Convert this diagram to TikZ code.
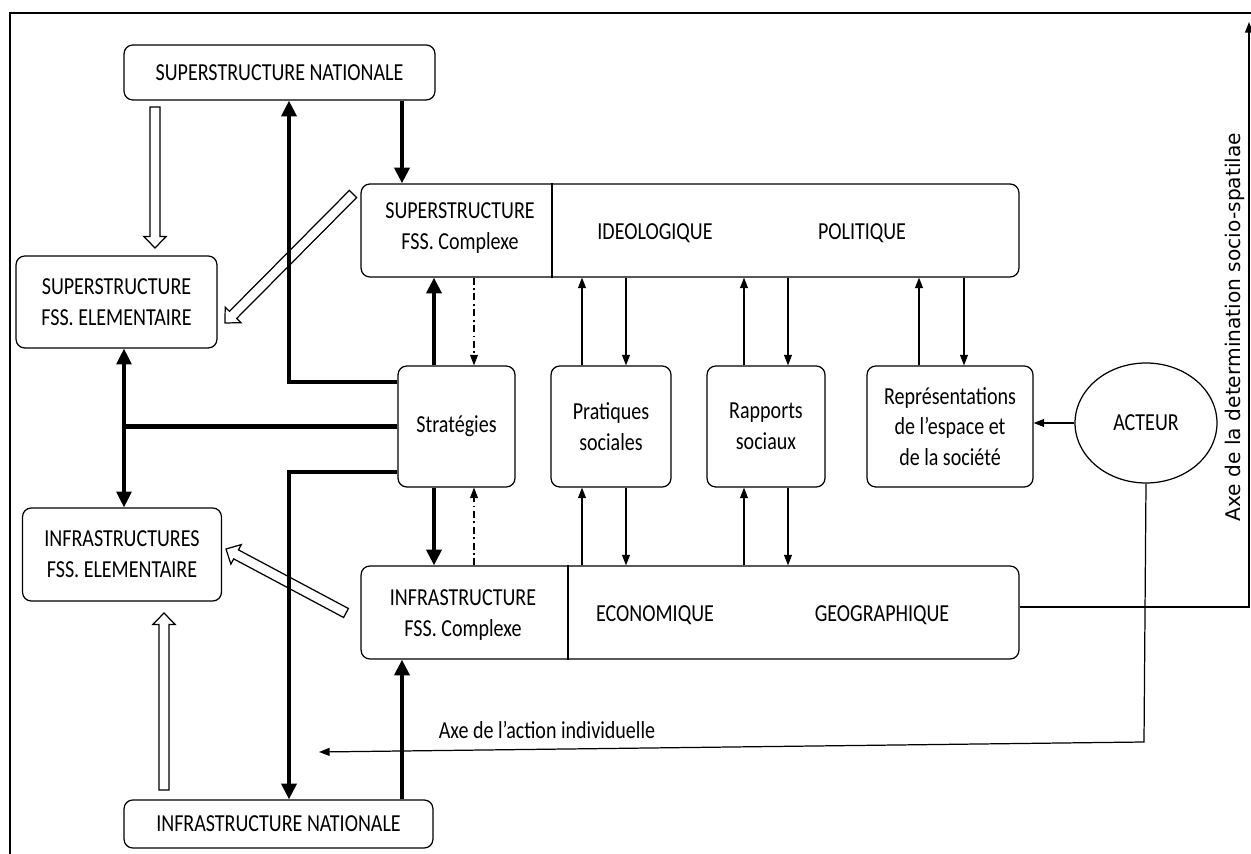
\documentclass[tikz,border=0pt]{standalone}
\usepackage{fontspec}
\setmainfont{Carlito}[FakeStretch=0.82]
\newfontfamily\axefont{DejaVu Sans}
\usetikzlibrary{calc,positioning,arrows.meta,shapes.geometric}
\tikzset{>={Triangle[length=6pt,width=4.5pt]}}
\tikzset{
  box/.style={draw, line width=0.7pt, rounded corners=5pt, align=center, inner sep=0pt},
  fine/.style={line width=0.7pt},
  heavy/.style={line width=2.3pt, >={Triangle[length=9pt,width=8.5pt]}},
  dashdot/.style={line width=0.6pt, dash pattern=on 4pt off 2pt on 1pt off 2pt},
  lbl/.style={align=center, inner sep=0pt},
}
% block arrow with white inside, from #1 to #2
\newcommand{\hollowarrow}[2]{%
  \coordinate (hb) at ($(#2)!6.5pt!(#1)$);
  \draw[fine, fill=white, line join=miter]
    ($(#1)!2.9pt!90:(#2)$) -- ($(hb)!2.9pt!90:(#2)$) -- ($(hb)!6.3pt!90:(#2)$) -- (#2)
    -- ($(hb)!6.3pt!-90:(#2)$) -- ($(hb)!2.9pt!-90:(#2)$) -- ($(#1)!2.9pt!-90:(#2)$) -- cycle;
}

\begin{document}
\begin{tikzpicture}[x=0.02cm, y=-0.02cm, font=\fontsize{13.9}{17.5}\selectfont]
    \useasboundingbox (0,0) rectangle (1251,854);
    \draw[line width=1.2pt] (10,854) -- (10,13) -- (1251,13);

    % boxes
    \node[box, minimum width=6.22cm, minimum height=1.1cm] (SN) at (279.5,72.5) {SUPERSTRUCTURE NATIONALE};
    \node[box, minimum width=4.02cm, minimum height=1.84cm] (SE) at (116.5,302) {SUPERSTRUCTURE\\FSS. ELEMENTAIRE};
    \node[box, minimum width=3.98cm, minimum height=1.86cm] (IE) at (122,554.5) {INFRASTRUCTURES\\FSS. ELEMENTAIRE};
    \node[box, minimum width=6.18cm, minimum height=0.96cm] (IN) at (278.5,824) {INFRASTRUCTURE NATIONALE};
    \node[box, minimum width=13.16cm, minimum height=1.86cm] (SC) at (690,230.5) {};
    \node[box, minimum width=13.16cm, minimum height=1.86cm] (IC) at (690,612.5) {};
    \node[box, minimum width=2.34cm, minimum height=2.42cm] (strat) at (456.5,426.5) {Stratégies};
    \node[box, minimum width=2.4cm, minimum height=2.42cm] (prat) at (611,426.5) {Pratiques\\sociales};
    \node[box, minimum width=2.36cm, minimum height=2.42cm] (rapp) at (766,426.5) {Rapports\\sociaux};
    \node[box, minimum width=3.32cm, minimum height=2.42cm] (repr) at (950,426.5) {Représentations\\de l’espace et\\de la société};
    \node[draw, fine, ellipse, minimum width=2.84cm, minimum height=2.4cm, inner sep=0pt] (acteur) at (1146,423) {ACTEUR};

    % inside the two long boxes
    \draw[fine] (552,0 |- SC.north) -- (552,0 |- SC.south);
    \node[lbl] (scname) at (460,228) {SUPERSTRUCTURE\\FSS. Complexe};
    \node[lbl] (ideo) at (655,233) {IDEOLOGIQUE};
    \node[lbl] (poli) at (862,233) {POLITIQUE};
    \draw[fine] (568,0 |- IC.north) -- (568,0 |- IC.south);
    \node[lbl] (icname) at (463,615) {INFRASTRUCTURE\\FSS. Complexe};
    \node[lbl] (eco) at (655,615) {ECONOMIQUE};
    \node[lbl] (geo) at (882,615) {GEOGRAPHIQUE};

    % hollow arrows
    \coordinate (h1a) at (155,107);  \coordinate (h1b) at (155,248);
    \coordinate (h2a) at (353,194);  \coordinate (h2b) at (225,323);
    \coordinate (h3a) at (346,613);  \coordinate (h3b) at (226,549);
    \coordinate (h4a) at (164,790);  \coordinate (h4b) at (164,613);
    \hollowarrow{h1a}{h1b}
    \hollowarrow{h2a}{h2b}
    \hollowarrow{h3a}{h3b}
    \hollowarrow{h4a}{h4b}

    % heavy links
    \draw[heavy, ->] (402,0 |- SN.south) -- (402,0 |- SC.north);
    \draw[heavy, ->] (402,0 |- IN.north) -- (402,0 |- IC.south);
    \draw[heavy, ->] (strat.west |- 0,382) -| (289,0 |- SN.south);
    \draw[heavy, ->] (strat.west |- 0,472) -| (289,0 |- IN.north);
    \draw[heavy] (strat.west) -- (124,0 |- strat.west);
    \draw[heavy, line width=1.8pt, <->] (124,0 |- SE.south) -- (124,0 |- IE.north);
    \draw[heavy, ->] (434,0 |- strat.north) -- (434,0 |- SC.south);
    \draw[heavy, ->] (434,0 |- strat.south) -- (434,0 |- IC.north);
    \draw[dashdot, ->] (474,0 |- SC.south) -- (474,0 |- strat.north);
    \draw[dashdot, ->] (474,0 |- IC.north) -- (474,0 |- strat.south);

    % thin links
    \draw[fine, ->] (582,0 |- prat.north) -- (582,0 |- SC.south);
    \draw[fine, ->] (626,0 |- SC.south) -- (626,0 |- prat.north);
    \draw[fine, ->] (582,0 |- IC.north) -- (582,0 |- prat.south);
    \draw[fine, ->] (626,0 |- prat.south) -- (626,0 |- IC.north);
    \draw[fine, ->] (744,0 |- rapp.north) -- (744,0 |- SC.south);
    \draw[fine, ->] (788,0 |- SC.south) -- (788,0 |- rapp.north);
    \draw[fine, ->] (744,0 |- IC.north) -- (744,0 |- rapp.south);
    \draw[fine, ->] (788,0 |- rapp.south) -- (788,0 |- IC.north);
    \draw[fine, ->] (919,0 |- repr.north) -- (919,0 |- SC.south);
    \draw[fine, ->] (964,0 |- SC.south) -- (964,0 |- repr.north);
    \draw[fine, ->] (acteur.west) -- (repr.east |- acteur.west);

    % the two axes
    \coordinate (axetop) at (1249,22);
    \coordinate (actend) at (319,752);
    \draw[fine, ->] (IC.east |- 0,607) -| (axetop);
    \node[lbl, rotate=90] (axelabel) at (1235,327) {\axefont\fontsize{11.5}{13}\selectfont Axe de la determination socio-spatilae};
    \draw[fine, ->] (acteur.south) -- (1144,742) -- (actend);
    \node[lbl] (actlabel) at (547,730) {Axe de l’action individuelle};
\end{tikzpicture}
\end{document}
